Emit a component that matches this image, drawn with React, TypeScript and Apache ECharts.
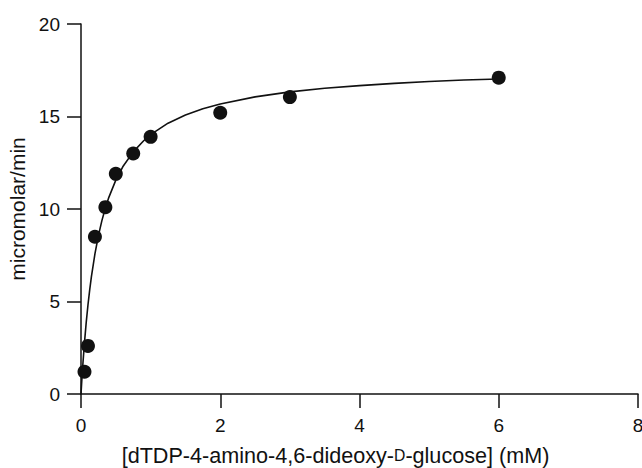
import React, { useEffect, useRef } from "react";
import * as echarts from "echarts";

const substrateMM = [0.05, 0.1, 0.2, 0.35, 0.5, 0.75, 1.0, 2.0, 3.0, 6.0];
const rateObserved = [1.2, 2.6, 8.5, 10.1, 11.9, 13.0, 13.9, 15.2, 16.05, 17.1];

const fitX = [0, 0.01, 0.02, 0.03, 0.05, 0.075, 0.1, 0.125, 0.15, 0.2, 0.25, 0.3, 0.35, 0.4, 0.5, 0.6, 0.75, 0.9, 1.0, 1.25, 1.5, 1.75, 2.0, 2.5, 3.0, 3.5, 4.0, 4.5, 5.0, 5.5, 6.0];
const fitY = [0, 0.64, 1.23, 1.78, 2.78, 3.87, 4.81, 5.63, 6.36, 7.57, 8.56, 9.37, 10.05, 10.63, 11.56, 12.28, 13.09, 13.69, 14.02, 14.64, 15.08, 15.42, 15.68, 16.06, 16.33, 16.53, 16.67, 16.79, 16.89, 16.97, 17.03];

const xTicks = { min: 0, max: 8, interval: 2 };
const yTicks = { min: 0, max: 20, interval: 5 };

const FONT = "'Liberation Sans', Arial, Helvetica, sans-serif";

export default function App() {
  const ref = useRef<HTMLDivElement>(null);
  useEffect(() => {
    if (!ref.current) return;
    const chart = echarts.init(ref.current, null, { renderer: "svg" });
    const axisCommon = {
      axisLine: { show: true, onZero: false, lineStyle: { color: "#111", width: 1.5 } },
      axisTick: { show: true, inside: false, length: 14, lineStyle: { color: "#111", width: 1.5 } },
      splitLine: { show: false },
    };
    chart.setOption({
      animation: false,
      backgroundColor: "#fff",
      textStyle: { fontFamily: FONT },
      grid: { left: 81, right: 4, top: 24, bottom: 74, containLabel: false, outerBoundsMode: "none" },
      xAxis: {
        type: "value",
        ...xTicks,
        ...axisCommon,
        axisLabel: { color: "#111", fontSize: 19, margin: 22, fontFamily: FONT, showMaxLabel: true },
        name: "[dTDP-4-amino-4,6-dideoxy-{sc|D}-glucose] (mM)",
        nameLocation: "middle",
        nameGap: 50,
        nameTextStyle: {
          color: "#111",
          fontSize: 21.6,
          fontFamily: FONT,
          padding: [0, 48, 0, 0],
          rich: { sc: { fontSize: 15.7, color: "#111", fontFamily: FONT } },
        },
      },
      yAxis: {
        type: "value",
        ...yTicks,
        ...axisCommon,
        axisLabel: { color: "#111", fontSize: 19, margin: 21, fontFamily: FONT },
        name: "micromolar/min",
        nameLocation: "middle",
        nameGap: 51,
        nameTextStyle: { color: "#111", fontSize: 21, fontFamily: FONT },
      },
      series: [
        {
          type: "line",
          data: fitX.map((x, i) => [x, fitY[i]]),
          smooth: false,
          showSymbol: false,
          lineStyle: { color: "#111", width: 1.6 },
          z: 2,
        },
        {
          type: "scatter",
          data: substrateMM.map((x, i) => [x, rateObserved[i]]),
          symbol: "circle",
          symbolSize: 14,
          itemStyle: { color: "#111", opacity: 1 },
          z: 3,
        },
      ],
    });
    return () => chart.dispose();
  }, []);
  return (
    <div
      ref={ref}
      style={{ position: "fixed", left: 0, top: 0, width: 642, height: 468, background: "#fff" }}
    />
  );
}
